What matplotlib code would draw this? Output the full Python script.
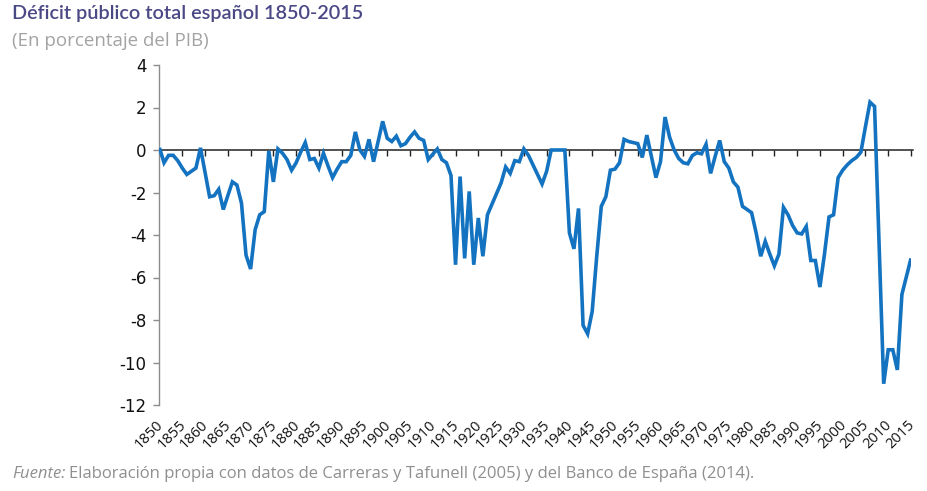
import numpy as np
import matplotlib
matplotlib.use('Agg')
import matplotlib.pyplot as plt
from matplotlib.transforms import ScaledTranslation

# años 1850-2015, déficit público en % del PIB
years = list(range(1850, 2016))
deficit = [
    0.1, -0.6, -0.25, -0.25, -0.5, -0.85, -1.15, -1.0, -0.85, 0.1,        # 1850-59
    -1.05, -2.2, -2.15, -1.85, -2.8, -2.15, -1.5, -1.65, -2.5, -4.95,     # 1860-69
    -5.6, -3.75, -3.05, -2.9, -0.05, -1.5, 0.05, -0.15, -0.45, -0.95,     # 1870-79
    -0.6, -0.1, 0.35, -0.45, -0.4, -0.85, -0.15, -0.75, -1.3, -0.9,       # 1880-89
    -0.55, -0.55, -0.25, 0.85, 0.0, -0.3, 0.5, -0.55, 0.4, 1.35,          # 1890-99
    0.55, 0.4, 0.65, 0.2, 0.3, 0.6, 0.85, 0.55, 0.45, -0.45,              # 1900-09
    -0.2, 0.05, -0.45, -0.6, -1.2, -5.4, -1.25, -5.1, -1.95, -5.4,        # 1910-19
    -3.2, -5.0, -3.05, -2.55, -2.05, -1.55, -0.8, -1.1, -0.5, -0.55,      # 1920-29
    0.05, -0.25, -0.7, -1.15, -1.6, -1.0, 0.0, 0.0, 0.0, 0.0,             # 1930-39
    -3.9, -4.65, -2.75, -8.25, -8.65, -7.6, -5.0, -2.65, -2.2, -0.95,     # 1940-49
    -0.9, -0.6, 0.5, 0.4, 0.35, 0.3, -0.35, 0.7, -0.3, -1.3,              # 1950-59
    -0.55, 1.55, 0.6, 0.0, -0.4, -0.6, -0.65, -0.26, -0.13, -0.18,        # 1960-69
    0.27, -1.1, -0.3, 0.45, -0.55, -0.85, -1.5, -1.75, -2.65, -2.8,       # 1970-79
    -2.95, -3.9, -5.0, -4.3, -4.9, -5.45, -4.9, -2.7, -3.05, -3.55,       # 1980-89
    -3.9, -3.95, -3.6, -5.2, -5.2, -6.45, -4.9, -3.15, -3.05, -1.3,       # 1990-99
    -0.95, -0.7, -0.5, -0.35, -0.1, 1.1, 2.25, 2.05, -4.4, -11.0,         # 2000-09
    -9.4, -9.4, -10.35, -6.8, -5.95, -5.1,                                # 2010-15
]
xticks = list(range(1850, 2016, 5))
yticks = [4, 2, 0, -2, -4, -6, -8, -10, -12]

title = 'Déficit público total español 1850-2015'
subtitle = '(En porcentaje del PIB)'
source_lead = 'Fuente:'
source_text = 'Elaboración propia con datos de Carreras y Tafunell (2005) y del Banco de España (2014).'

fig = plt.figure(figsize=(9.28, 4.91), dpi=100)
ax = fig.add_axes([159.5 / 928, 86 / 491, (911 - 159.5) / 928, 340 / 491])

ax.plot(years, deficit, color='#1473c0', lw=2.6, solid_joinstyle='miter',
        solid_capstyle='butt', zorder=3)

ax.set_xlim(1850, 2015)
ax.set_ylim(-12, 4)

# eje horizontal en el cero, con marcas hacia abajo y sin etiquetas
ax.spines['bottom'].set_position(('data', 0))
ax.spines['bottom'].set_color('#222222')
ax.spines['bottom'].set_linewidth(1.1)
ax.spines['bottom'].set_bounds(1850, 2015.5)
ax.spines['top'].set_visible(False)
ax.spines['right'].set_visible(False)
ax.spines['left'].set_color('#8c8c8c')
ax.spines['left'].set_linewidth(1.0)
ax.set_xticks(xticks)
ax.tick_params(axis='x', direction='out', length=4, width=1.0,
               color='#222222', labelbottom=False)

ax.set_yticks(yticks)
ax.set_yticklabels([str(v) for v in yticks])
ax.tick_params(axis='y', direction='out', length=4.5, width=1.0,
               color='#8c8c8c', labelsize=12, labelcolor='#111111', pad=5)

# etiquetas de los años abajo del todo, giradas
sec = ax.secondary_xaxis('bottom')
sec.spines['bottom'].set_visible(False)
sec.set_xticks(xticks)
sec.set_xticklabels([str(v) for v in xticks], rotation=45, ha='right',
                    va='top', rotation_mode='anchor',
                    family='Open Sans', fontsize=10.5, color='#111111')
sec.tick_params(axis='x', length=0, pad=9)
shift = ScaledTranslation(-4 / 100, 0, fig.dpi_scale_trans)
for lab in sec.get_xticklabels():
    lab.set_transform(lab.get_transform() + shift)

fig.text(12 / 928, 1 - 5 / 491, title, ha='left', va='top',
         family='Lato', fontweight='semibold', fontsize=14.3,
         color='#4b4886')
fig.text(12 / 928, 1 - 32 / 491, subtitle, ha='left', va='top',
         family='Open Sans', fontsize=13.5, color='#a3a3a3')

# fuente: "Fuente:" en cursiva y el resto a continuación
lead = fig.text(12 / 928, 1 - 474 / 491, source_lead, ha='left', va='center',
                family='Open Sans', fontsize=12, style='italic',
                color='#8f8f8f')
r = fig.canvas.get_renderer()
bb = lead.get_window_extent(renderer=r)
fig.text((bb.x1 + 4) / 928, 1 - 474 / 491, source_text,
         ha='left', va='center', family='Open Sans', fontsize=12,
         color='#8f8f8f')

fig.savefig('out.png', dpi=100, facecolor='white')
